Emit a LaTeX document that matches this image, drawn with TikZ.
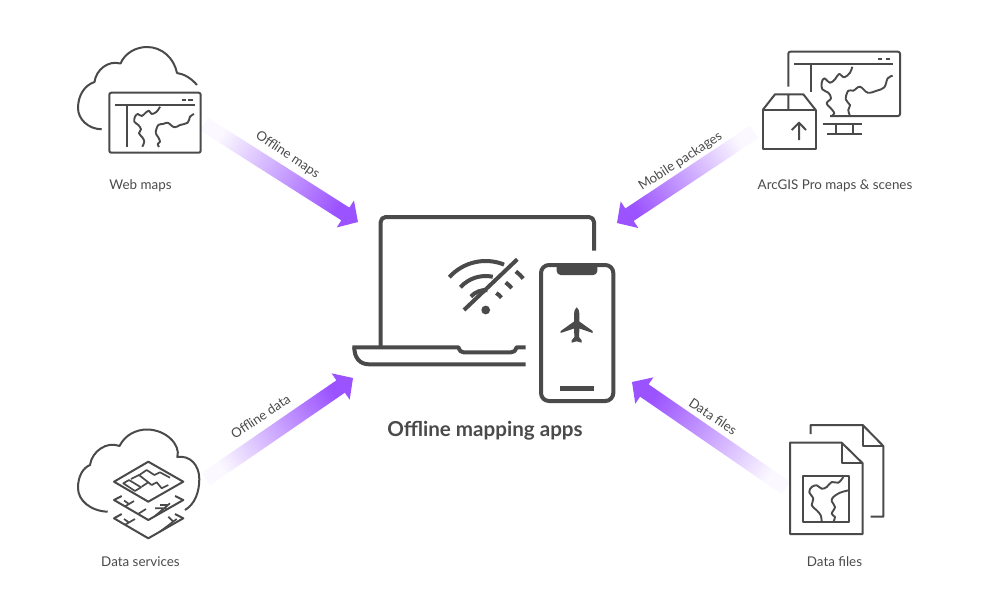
\documentclass[tikz,border=0pt]{standalone}
\usepackage{fontspec}
\setmainfont{Lato}
\usetikzlibrary{calc}
\definecolor{ink}{HTML}{4A4A4A}
\definecolor{flow}{HTML}{9B52FF}
\tikzset{
  icon/.style={draw=ink,line width=2pt,line join=round},
  thinicon/.style={draw=ink,line width=1.7pt,line join=round},
  device/.style={draw=ink,line width=4pt,line join=round},
  river/.style={icon,line width=1.9pt,smooth,tension=0.6},
  caption/.style={text=ink,font=\fontsize{13.4}{16}\selectfont,inner sep=0pt},
  flowlabel/.style={text=ink,font=\fontsize{13.2}{16}\selectfont,inner sep=0pt},
  title/.style={text=ink,font=\fontsize{20.6}{24}\selectfont\bfseries,inner sep=0pt},
}
% Wide arrow that fades in from white at its tail; #1 tail, #2 tip
\newcommand{\flowarrow}[2]{%
  \pgfmathanglebetweenpoints{\pgfpointanchor{#1}{center}}{\pgfpointanchor{#2}{center}}%
  \pgfmathsetmacro{\fa}{\pgfmathresult-90}%
  \coordinate (neck) at ($(#2)!15pt!(#1)$);
  \shade[bottom color=flow!4!white,top color=flow,shading angle=\fa]
    ($(#1)!7.5pt!-90:(#2)$) -- ($(neck)!7.5pt!-90:(#2)$)
    -- ($(neck)!16pt!-90:(#2)$) -- (#2) -- ($(neck)!16pt!90:(#2)$)
    -- ($(neck)!7.5pt!90:(#2)$) -- ($(#1)!7.5pt!90:(#2)$) -- cycle;
}
\begin{document}
\begin{tikzpicture}[x=1pt,y=-1pt]
\useasboundingbox (0,0) rectangle (995,611);

% flow arrows
\coordinate (webtail) at (204,124);   \coordinate (webtip) at (358,222);
\coordinate (protail) at (754,132);   \coordinate (protip) at (617,223);
\coordinate (svctail) at (206,479);   \coordinate (svctip) at (353,378);
\coordinate (filetail) at (786,488);  \coordinate (filetip) at (632,382);
\flowarrow{webtail}{webtip}
\flowarrow{protail}{protip}
\flowarrow{svctail}{svctip}
\flowarrow{filetail}{filetip}
\node[flowlabel,rotate=-34] (lblmaps) at (287.5,155) {Offline maps};
\node[flowlabel,rotate=33] (lblpkg) at (680.5,161.5) {Mobile packages};
\node[flowlabel,rotate=34] (lbldata) at (260.5,416.5) {Offline data};
\node[flowlabel,rotate=-34] (lblfiles) at (713,416.5) {Data files};

% laptop
\draw[device] (380.7,347) -- (380.7,222) arc[start angle=180,end angle=270,radius=5]
  -- (589,217) arc[start angle=270,end angle=360,radius=5] -- (594,250.7);
\draw[device] (352.3,347.3) -- (458.3,347.3) .. controls (460,351) and (461,352.3) .. (463.5,352.3)
  -- (511,352.3) .. controls (514,352.3) and (515,351) .. (516.7,347.3) -- (525.7,347.3);
\draw[device] (354.3,347.3) .. controls (354.3,358) and (360,364.3) .. (369,364.3) -- (525.7,364.3);

% no-signal glyph
\coordinate (wifi) at (485.7,310);
\fill[ink] (wifi) circle[radius=4.4];
\draw[device] ([shift={(-138:49)}]wifi) arc[start angle=-138,end angle=-68,radius=49];
\draw[device] ([shift={(-138:34)}]wifi) arc[start angle=-138,end angle=-78,radius=34];
\draw[device] ([shift={(-138:20)}]wifi) arc[start angle=-138,end angle=-85,radius=20];
\draw[device] ([shift={(-52:49)}]wifi) arc[start angle=-52,end angle=-40,radius=49];
\draw[device] ([shift={(-54:34)}]wifi) arc[start angle=-54,end angle=-40,radius=34];
\draw[device] ([shift={(-58:20)}]wifi) arc[start angle=-58,end angle=-38,radius=20];
\draw[device] (464,310) -- (517.3,259.3);

% phone
\draw[device] (549,265) -- (605.3,265) arc[start angle=270,end angle=360,radius=8]
  -- (613.3,393) arc[start angle=0,end angle=90,radius=8]
  -- (549,401) arc[start angle=90,end angle=180,radius=8]
  -- (541,273) arc[start angle=180,end angle=270,radius=8] -- cycle;
\fill[ink] (556.7,265) -- (597.3,265) -- (597.3,271) arc[start angle=0,end angle=90,radius=4]
  -- (560.7,275) arc[start angle=90,end angle=180,radius=4] -- cycle;
\fill[ink] (560,385.7) rectangle (594,390.7);
% airplane
\fill[ink] (576.7,307.3) .. controls (578.4,308.5) and (579.4,311) .. (579.4,314) -- (579.4,321.5)
  -- (592.7,331) -- (592.7,333) -- (579.4,328.5) -- (579,337) -- (581.7,340.3) -- (581.7,342.7)
  -- (576.7,341.3) -- (571.7,342.7) -- (571.7,340.3) -- (574.4,337) -- (574,328.5)
  -- (560.7,333) -- (560.7,331) -- (574,321.5) -- (574,314)
  .. controls (574,311) and (575,308.5) .. (576.7,307.3) -- cycle;
\node[title] (apps) at (485,430.5) {Offline mapping apps};

% web maps icon
\draw[icon] (101.7,129.3) .. controls (88,129) and (78,119) .. (78,108)
  .. controls (78,95) and (85,85) .. (94.5,82)
  .. controls (96,70) and (108,60) .. (120.5,63.5)
  .. controls (125,53) and (136,47) .. (147,47)
  .. controls (162,47) and (174,58) .. (177,73)
  .. controls (184,74) and (191,78) .. (197,85);
\draw[icon,rounded corners=2pt] (109.3,92.7) rectangle (200.7,152.7);
\draw[icon] (115,105) -- (195,105);
\draw[icon] (126.7,105) -- (126.7,147);
\draw[icon] (181.7,100) -- (186,100) (188,100) -- (192.7,100);
\draw[river] plot coordinates {(160,106.7) (156.7,111.7) (151.7,114) (149,110.7) (145.7,112.7) (141.7,116) (137.7,114) (135,116.7) (134.3,121.7) (138.3,125) (141,129.3) (139,133.3) (142.3,137.3) (144.3,141.7) (142.3,146.7)};
\draw[river] plot coordinates {(194,114) (190,116.7) (187.7,122.7) (180,125) (174.3,127.3) (167.7,122.7) (163.3,124) (158.3,125) (155.7,132.7) (158.3,137.3) (160,141.7) (157.7,144) (159,147)};
\node[caption] (webcap) at (140.5,186) {Web maps};

% ArcGIS Pro icon
\draw[icon,rounded corners=2pt] (788.3,86.7) -- (788.3,51.7) -- (900,51.7) -- (900,116) -- (830,116);
\draw[icon] (794.3,64.3) -- (893.3,64.3);
\draw[icon] (811,64.3) -- (811,91.7);
\draw[icon] (878,59.3) -- (882,59.3) (886,59.3) -- (890,59.3);
\draw[river] plot coordinates {(852.3,66.7) (850,72.7) (844.3,77.3) (839,74) (835,79.3) (830,82.7) (824.3,78.3) (821.7,82.7) (822.3,89.3) (828.3,92.7) (831,98.3) (826.7,103.3) (831.7,109.3) (834.3,113.3) (831.7,116)};
\draw[river] plot coordinates {(892.7,75.7) (887.7,78.3) (884.3,87.3) (876.7,90.7) (867.7,92.7) (860,86.7) (853.3,90.7) (848.3,90.7) (845.7,99.3) (850,105) (848.3,110) (850,116)};
\draw[icon] (823,124.3) -- (862,124.3) (836,124.3) -- (836,134) (852.7,124.3) -- (852.7,134) (827,134) -- (862,134);
\draw[icon] (762.7,110) rectangle (815.7,149.3);
\draw[icon] (762.7,110) -- (775,94.3) -- (803.3,94.3) -- (815.7,110) (788.3,94.3) -- (788.3,110);
\draw[icon] (799,140) -- (799,123) (791.7,130) -- (799,122.7) -- (806,130);
\node[caption] (procap) at (835,186) {ArcGIS Pro maps \& scenes};

% data services icon
\draw[icon] (107.7,511.7) .. controls (90,511) and (78,500) .. (78,488)
  .. controls (78,476) and (83,468) .. (90,465)
  .. controls (92,451) and (107,441) .. (119.5,446)
  .. controls (125,435) and (136,429.5) .. (147,429.5)
  .. controls (166,429.5) and (181,445) .. (177.3,457)
  .. controls (190,455) and (199.3,465) .. (199.3,479)
  .. controls (199.3,492) and (195,504) .. (185,510);
\draw[icon] (114,481.7) -- (148.3,461.7) -- (183.3,481.7) -- (148.3,501.7) -- cycle;
\draw[thinicon] (123.3,483.3) -- (129,480) -- (141,487.3) -- (135,491) -- cycle;
\draw[thinicon] (138.3,475.7) -- (146.7,470) -- (154.3,475) -- (160,472.3) -- (170,477.7);
\draw[thinicon] (131,479) -- (139,475) -- (151.7,485) -- (156.7,482.3) -- (161.7,488.3) -- (168.3,485);
\draw[thinicon] (141.7,486.7) -- (148.3,482.3);
\draw[icon] (121.7,496) -- (114,500) -- (148.3,520) -- (183.3,500) -- (175,496);
\draw[thinicon] (125,506.4) -- (134,501) (129,504) -- (124,500.5) (138,514) -- (146,509);
\draw[thinicon] (155,516) -- (170,503.3) (155,508.3) -- (166.7,508.3) (160,505) -- (168.3,505);
\draw[icon] (121.7,514) -- (114,518.3) -- (148.3,538.3) -- (183.3,518.3) -- (175,514);
\draw[thinicon] (125,524.7) -- (135,519) (129,522.5) -- (124,519) (160,531.6) -- (176.7,519) (168.3,516.7) -- (173.3,521.7);
\node[caption] (svccap) at (140.5,561.5) {Data services};

% data files icon
\draw[icon] (810.7,434) -- (810.7,425) -- (862.7,425) -- (883.3,446) -- (883.3,516.7) -- (870.7,516.7);
\draw[icon] (862.7,425) -- (862.7,446) -- (883.3,446);
\draw[icon] (790,442.7) -- (841.7,442.7) -- (862.7,463.3) -- (862.7,534) -- (790,534) -- cycle;
\draw[icon] (841.7,442.7) -- (841.7,463.3) -- (862.7,463.3);
\draw[icon] (802.7,475.7) rectangle (849.3,522.3);
\draw[river] plot coordinates {(843.3,477) (838.3,482.7) (831.7,482) (826.7,487) (821.7,488.7) (816.7,485.3) (811.7,487) (809.3,492) (813.3,498.7) (811.7,505.3) (816.7,510.3) (820.7,515.3) (821.7,522)};
\draw[river] plot coordinates {(848.5,490.3) (840,492.7) (833.3,497) (831.7,501.3) (835,507) (831.7,513.7) (835,517) (833.3,522)};
\node[caption] (filecap) at (834.5,561.5) {Data files};
\end{tikzpicture}
\end{document}
